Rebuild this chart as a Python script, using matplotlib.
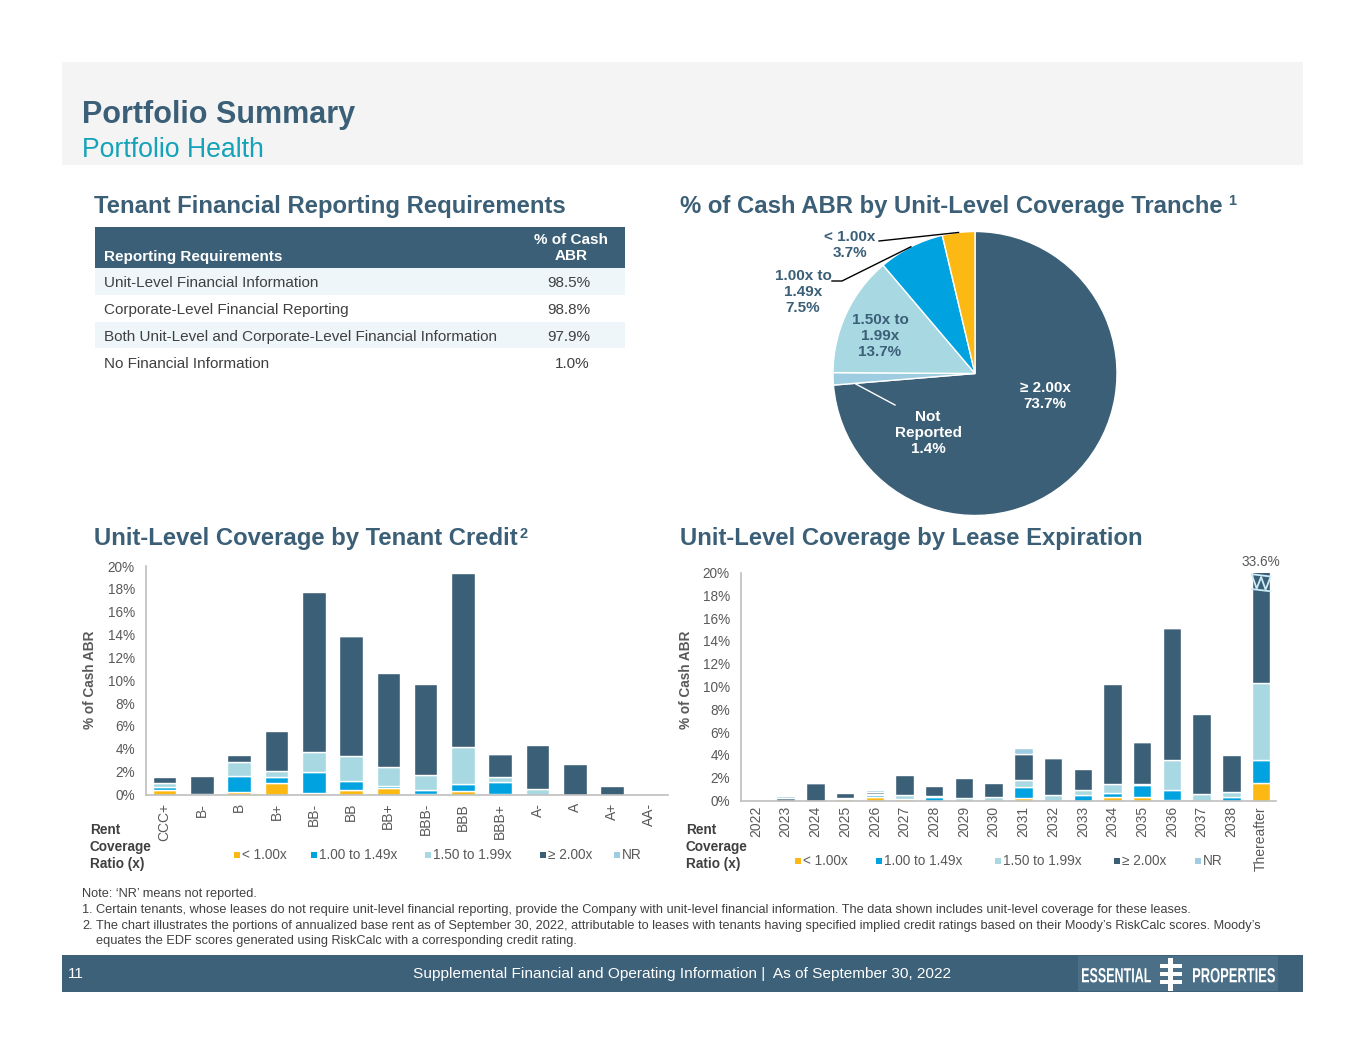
import matplotlib
matplotlib.use('Agg')
import matplotlib.pyplot as plt
from matplotlib.patches import Rectangle, PathPatch
from matplotlib.textpath import TextPath
from matplotlib.font_manager import FontProperties
from matplotlib.transforms import Affine2D
import numpy as np

plt.rcParams['font.family'] = ['Liberation Sans', 'DejaVu Sans']

# ---------------- data ----------------
table_header = ['Reporting Requirements', '% of Cash\nABR']
table_rows = ['Unit-Level Financial Information',
              'Corporate-Level Financial Reporting',
              'Both Unit-Level and Corporate-Level Financial Information',
              'No Financial Information']
table_vals = ['98.5%', '98.8%', '97.9%', '1.0%']

pie_labels = ['\u2265 2.00x', 'Not\nReported', '1.50x to\n1.99x', '1.00x to\n1.49x', '< 1.00x']
pie_vals = [73.7, 1.4, 13.7, 7.5, 3.7]

series_names = ['< 1.00x', '1.00 to 1.49x', '1.50 to 1.99x', '\u2265 2.00x', 'NR']

credit_cats = ['CCC+', 'B-', 'B', 'B+', 'BB-', 'BB', 'BB+', 'BBB-', 'BBB', 'BBB+', 'A-', 'A', 'A+', 'AA-']
credit_lt100 = [0.42, 0.0, 0.25, 1.05, 0.15, 0.40, 0.55, 0.05, 0.35, 0.05, 0.0, 0.0, 0.0, 0.0]
credit_100_149 = [0.25, 0.0, 1.40, 0.45, 1.80, 0.80, 0.20, 0.35, 0.60, 1.05, 0.0, 0.0, 0.0, 0.0]
credit_150_199 = [0.30, 0.05, 1.20, 0.60, 1.80, 2.20, 1.70, 1.30, 3.20, 0.40, 0.45, 0.0, 0.0, 0.0]
credit_ge200 = [0.55, 1.60, 0.65, 3.45, 14.0, 10.45, 8.20, 8.0, 15.2, 2.05, 3.85, 2.70, 0.72, 0.0]
credit_nr = [0.0, 0.0, 0.0, 0.0, 0.0, 0.15, 0.0, 0.0, 0.0, 0.05, 0.0, 0.0, 0.0, 0.0]

exp_cats = ['2022', '2023', '2024', '2025', '2026', '2027', '2028', '2029', '2030', '2031',
            '2032', '2033', '2034', '2035', '2036', '2037', '2038', 'Thereafter']
exp_lt100 = [0.0, 0.0, 0.0, 0.10, 0.30, 0.15, 0.0, 0.0, 0.0, 0.22, 0.0, 0.0, 0.28, 0.35, 0.05, 0.0, 0.0, 1.55]
exp_100_149 = [0.0, 0.0, 0.0, 0.0, 0.15, 0.0, 0.32, 0.0, 0.0, 1.0, 0.0, 0.45, 0.40, 1.0, 0.85, 0.0, 0.30, 2.0]
exp_150_199 = [0.0, 0.0, 0.0, 0.15, 0.15, 0.35, 0.10, 0.25, 0.30, 0.60, 0.45, 0.50, 0.75, 0.10, 2.65, 0.60, 0.45, 6.8]
exp_ge200 = [0.0, 0.25, 1.50, 0.45, 0.15, 1.75, 0.85, 1.70, 1.20, 2.30, 3.30, 1.80, 8.80, 3.70, 11.6, 6.95, 3.25, 23.25]
exp_nr = [0.0, 0.15, 0.15, 0.0, 0.15, 0.0, 0.0, 0.0, 0.0, 0.47, 0.10, 0.0, 0.0, 0.05, 0.10, 0.0, 0.0, 0.0]

notes = ["Note: \u2018NR\u2019 means not reported.",
         "Certain tenants, whose leases do not require unit-level financial reporting, provide the Company with unit-level financial information. The data shown includes unit-level coverage for these leases.",
         "The chart illustrates the portions of annualized base rent as of September 30, 2022, attributable to leases with tenants having specified implied credit ratings based on their Moody\u2019s RiskCalc scores. Moody\u2019s",
         "equates the EDF scores generated using RiskCalc with a corresponding credit rating."]

# ---------------- style ----------------
W, H = 1365, 1055
DARK = '#3B5F77'
BLUE = '#00A3E0'
LIGHT = '#A8D8E2'
YELLOW = '#FDB913'
NRC = '#9ECCE0'
TEAL = '#14A3B8'
TXT = '#404040'
GRAY = '#595959'
SPINE = '#BFBFBF'
colors = [YELLOW, BLUE, LIGHT, DARK, NRC]

fig = plt.figure(figsize=(W / 100, H / 100), dpi=100)
fig.patch.set_facecolor('white')


def overlay(z):
    a = fig.add_axes([0, 0, 1, 1])
    a.set_xlim(0, W)
    a.set_ylim(H, 0)
    a.axis('off')
    a.set_zorder(z)
    a.patch.set_alpha(0)
    return a


bg = overlay(0)


def ax_px(l, t, r, b):
    a = fig.add_axes([l / W, 1 - b / H, (r - l) / W, (b - t) / H])
    a.set_zorder(2)
    a.patch.set_alpha(0)
    return a


# header band
bg.add_patch(Rectangle((62, 62), 1241, 103, color='#F4F4F4', lw=0))
bg.text(82, 123.5, 'Portfolio Summary', fontsize=22, fontweight='bold', color=DARK, va='baseline')
bg.text(82, 157, 'Portfolio Health', fontsize=19.2, color=TEAL, va='baseline')

# section titles
HS = 17.2
bg.text(94, 206, 'Tenant Financial Reporting Requirements', fontsize=HS, fontweight='bold', color=DARK, va='center')
bg.text(680, 206, '% of Cash ABR by Unit-Level Coverage Tranche', fontsize=HS, fontweight='bold', color=DARK, va='center')
bg.text(1228, 201, '1', fontsize=10.5, fontweight='bold', color=DARK, va='center')
bg.text(94, 539, 'Unit-Level Coverage by Tenant Credit', fontsize=HS, fontweight='bold', color=DARK, va='center')
bg.text(519, 534, '2', fontsize=10.5, fontweight='bold', color=DARK, va='center')
bg.text(680, 539, 'Unit-Level Coverage by Lease Expiration', fontsize=HS, fontweight='bold', color=DARK, va='center')

# ---------------- table ----------------
tl, tr, ttop, thead, rowh = 95, 625, 227, 41, 26.8
bg.add_patch(Rectangle((tl, ttop), tr - tl, thead, color=DARK, lw=0))
bg.text(104, 257, table_header[0], fontsize=11, fontweight='bold', color='white', va='center')
bg.text(571, 248, table_header[1], fontsize=11, fontweight='bold', color='white', va='center',
        ha='center', linespacing=1.2)
for i, (name, val) in enumerate(zip(table_rows, table_vals)):
    y0 = ttop + thead + i * rowh
    if i % 2 == 0:
        bg.add_patch(Rectangle((tl, y0), tr - tl, rowh, color='#EEF6F9', lw=0))
    bg.text(104, y0 + rowh / 2 + 2, name, fontsize=11, color=TXT, va='center')
    bg.text(590, y0 + rowh / 2 + 2, val, fontsize=11, color=TXT, va='center', ha='right')

# ---------------- pie ----------------
cx, cy, R = 975, 373.5, 142
pl, pr, pt, pb = 760, 1190, 215, 532
axp = ax_px(pl, pt, pr, pb)
wedges, _ = axp.pie(pie_vals, colors=[DARK, NRC, LIGHT, BLUE, YELLOW], startangle=90,
                    counterclock=False, wedgeprops=dict(edgecolor='white', linewidth=1.0))
axp.set_xlim((pl - cx) / R, (pr - cx) / R)
axp.set_ylim((cy - pb) / R, (cy - pt) / R)
axp.set_aspect('equal')

top = overlay(10)


def wedge_pt(w, r=1.0):
    ang = np.deg2rad((w.theta1 + w.theta2) / 2)
    return cx + R * r * np.cos(ang), cy - R * r * np.sin(ang)


lab = [f'{l}\n{v}%' for l, v in zip(pie_labels, pie_vals)]
pkw = dict(fontsize=11, fontweight='bold', ha='center', va='center', linespacing=1.15)
top.text(1045, 396, lab[0], color='white', **pkw)
top.text(928, 433, lab[1], color='white', **pkw)
top.text(880, 336, lab[2], color=DARK, **pkw)
top.text(803, 292, lab[3], color=DARK, **pkw)
top.text(850, 245, lab[4], color=DARK, **pkw)
# leader lines
x4, y4 = wedge_pt(wedges[4])
top.plot([879, x4], [241, y4], color='black', lw=1)
x3, y3 = wedge_pt(wedges[3])
top.plot([832, 842, x3], [281, 281, y3], color='black', lw=1)
x1, y1 = wedge_pt(wedges[1], 0.84)
top.plot([x1, 895], [y1 + 6, 405], color='white', lw=1)


# ---------------- bar charts ----------------
def stacked(ax, cats, series, width, xpad):
    x = np.arange(len(cats))
    bottom = np.zeros(len(cats))
    for vals, c in zip(series, colors):
        vals = np.asarray(vals, float)
        m = vals > 0
        ax.bar(x[m], vals[m], width, bottom=bottom[m], color=c, edgecolor='white', linewidth=1.0)
        bottom += vals
    ax.set_xlim(-0.5, len(cats) - 0.5)
    ax.set_ylim(0, 20)
    ax.set_yticks(range(0, 21, 2))
    ax.set_yticklabels([f'{v}%' for v in range(0, 21, 2)])
    ax.set_xticks(x)
    ax.set_xticklabels(cats, rotation=90, va='top', ha='center')
    ax.tick_params(length=0, labelsize=10, colors=GRAY)
    ax.tick_params(axis='y', pad=8, labelsize=9.8)
    ax.tick_params(axis='x', pad=xpad)
    for s in ['top', 'right']:
        ax.spines[s].set_visible(False)
    for s in ['left', 'bottom']:
        ax.spines[s].set_color(SPINE)
        ax.spines[s].set_linewidth(1.2)
    return x, bottom


ax1 = ax_px(146, 566, 668, 794.5)
stacked(ax1, credit_cats, [credit_lt100, credit_100_149, credit_150_199, credit_ge200, credit_nr], 0.63, 6)

ax2 = ax_px(741, 572.5, 1276, 800.5)
x2, tot2 = stacked(ax2, exp_cats, [exp_lt100, exp_100_149, exp_150_199, exp_ge200, exp_nr], 0.62, 4)
# break marker and label for the clipped bar
xi = x2[-1]
zz_x = xi + np.array([-0.3, -0.15, 0.0, 0.15, 0.3])
ax2.plot([xi - 0.31, xi + 0.31], [19.85, 19.65], color='#CDEBF7', lw=1.3, clip_on=False, zorder=4)
ax2.plot(zz_x, [19.7, 18.6, 19.6, 18.5, 19.5], color='#CDEBF7', lw=1.3, clip_on=False, zorder=4)
ax2.plot([xi - 0.31, xi + 0.31], [18.55, 18.35], color='#CDEBF7', lw=1.3, clip_on=False, zorder=4)
ax2.text(xi, 20.3, f'{tot2[-1]:.1f}%', ha='center', va='bottom', fontsize=9.8, color=GRAY)

# y labels
bg.text(90, 680, '% of Cash ABR', rotation=90, fontsize=9.8, fontweight='bold', color=GRAY,
        ha='center', va='center')
bg.text(686, 680, '% of Cash ABR', rotation=90, fontsize=9.8, fontweight='bold', color=GRAY,
        ha='center', va='center')

# legends
for lx in (90, 686):
    bg.text(lx, 847, 'Rent\nCoverage\nRatio (x)', fontsize=9.8, fontweight='bold', color=TXT,
            ha='left', va='center', linespacing=1.25)

leg1_x = [242, 319, 433, 548, 622]
leg2_x = [803, 884, 1003, 1122, 1203]
for xs, ly in ((leg1_x, 855), (leg2_x, 861)):
    for name, c, tx in zip(series_names, colors, xs):
        bg.add_patch(Rectangle((tx - 8, ly - 3), 6, 6, color=c, lw=0))
        bg.text(tx, ly, name, fontsize=9.8, color=GRAY, va='center', ha='left')

# notes
nkw = dict(fontsize=9.2, color=TXT, va='center')
bg.text(82, 894, notes[0], **nkw)
bg.text(82, 910, '1.', **nkw)
bg.text(96, 910, notes[1], **nkw)
bg.text(82, 926, '2.', **nkw)
bg.text(96, 926, notes[2], **nkw)
bg.text(96, 941, notes[3], **nkw)

# footer
bg.add_patch(Rectangle((62, 955), 1241, 37, color='#3D6179', lw=0))
bg.add_patch(Rectangle((1078, 956), 200, 35, color='#4B6F86', lw=0))
bg.text(68, 974, '11', fontsize=11, color='white', va='center')
bg.text(682, 974, 'Supplemental Financial and Operating Information |  As of September 30, 2022',
        fontsize=11.1, color='white', va='center', ha='center')

fp = FontProperties(family='Liberation Sans', weight='bold')


def logo_word(word, x0, base, width, cap):
    tp = TextPath((0, 0), word, size=10, prop=fp)
    bb = tp.get_extents()
    tr = (Affine2D().translate(-bb.x0, -bb.y0)
          .scale(width / bb.width, -cap / bb.height).translate(x0, base))
    bg.add_patch(PathPatch(tp, transform=tr + bg.transData, color='white', lw=0))


logo_word('ESSENTIAL', 1082, 982.5, 69, 14.5)
logo_word('PROPERTIES', 1193, 982.5, 82, 14.5)
bg.add_patch(Rectangle((1168, 958), 5, 33, color='white', lw=0))
for yy in (964, 972, 980):
    bg.add_patch(Rectangle((1160, yy), 22, 3.5, color='white', lw=0))

fig.savefig('out.png', dpi=100, facecolor='white')
